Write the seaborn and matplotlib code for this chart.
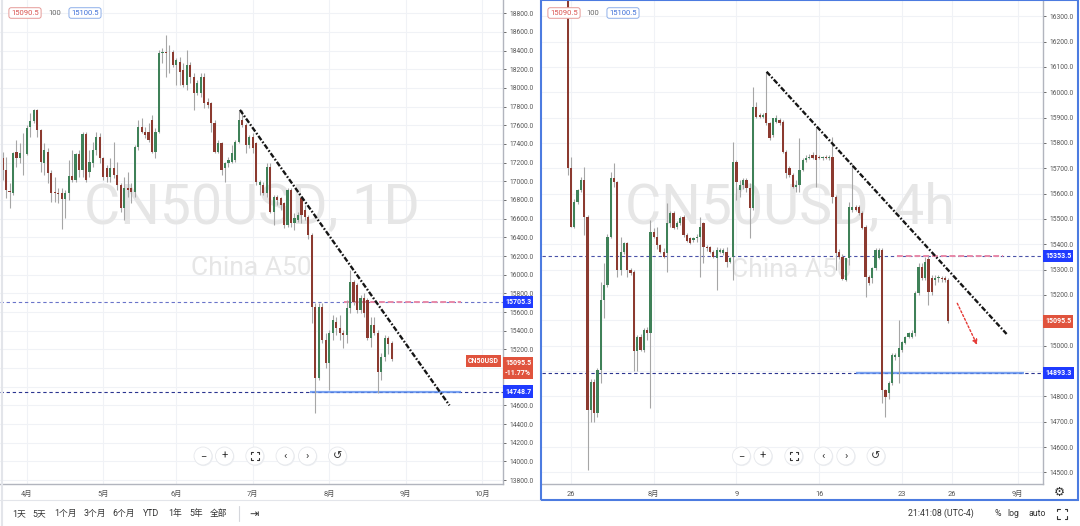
import numpy as np
import pandas as pd
import matplotlib
matplotlib.use("Agg")
import matplotlib.pyplot as plt
import matplotlib.transforms as mtransforms
from matplotlib.patches import Rectangle, Circle
import seaborn as sns

sns.set_theme(style="white")
plt.rcParams['font.family'] = ['Roboto', 'Noto Sans CJK SC', 'DejaVu Sans']

# ---- CN50USD daily candles (2021-03-23 .. 2021-08-26) ----
d_open = [17246, 17121, 16900, 16879, 17318, 17246, 17300, 17293, 17578, 17650,
          17764, 17550, 17200, 17318, 17093, 16889, 16879, 16879, 16807, 16871,
          17057, 17014, 17293, 17121, 17507, 17103, 17193, 17336, 17478, 17246,
          17139, 17043, 17139, 17068, 16961, 16711, 16925, 16925, 16889, 17371,
          17585, 17532, 17532, 17657, 17318, 17532, 18371, 18389, 18380, 18389,
          18246, 18282, 18193, 18032, 18246, 18121, 17943, 17943, 18121, 17853,
          17836, 17621, 17318, 17407, 17139, 17193, 17211, 17229, 17425, 17657,
          17604, 17389, 17479, 17407, 16961, 16961, 16872, 17157, 16675, 16836,
          16818, 16765, 16533, 16907, 16550, 16586, 16818, 16693, 16622, 16425,
          15658, 14890, 15658, 15301, 15051, 15372, 15497, 15426, 15372, 15354,
          15640, 15925, 15890, 15622, 15747, 15729, 15318, 15458, 15372, 14960,
          15120, 15320, 15265]
d_high = [17318, 17264, 16979, 17318, 17443, 17407, 17514, 17603, 17728, 17770,
          17770, 17560, 17407, 17353, 17121, 17050, 16925, 16925, 16907, 17228,
          17336, 17300, 17336, 17532, 17532, 17336, 17425, 17532, 17514, 17264,
          17175, 17246, 17425, 17211, 16979, 17050, 17103, 16979, 17389, 17657,
          17675, 17585, 17621, 17710, 17568, 18407, 18425, 18567, 18460, 18407,
          18318, 18336, 18264, 18407, 18282, 18157, 18085, 18157, 18157, 17890,
          17853, 17657, 17443, 17425, 17211, 17264, 17389, 17443, 17750, 17764,
          17621, 17496, 17514, 17425, 17014, 16997, 17193, 17193, 16854, 16854,
          16836, 16782, 16925, 16925, 16657, 16675, 16836, 16747, 16640, 16443,
          15693, 15693, 15693, 15372, 15408, 15568, 15551, 15568, 15408, 15729,
          16050, 15943, 15908, 15780, 15800, 15750, 15551, 15551, 15408, 15160,
          15350, 15340, 15290]
d_low = [17014, 16818, 16711, 16854, 17157, 17193, 17068, 17282, 17478, 17621,
         17478, 17103, 17068, 16979, 16782, 16782, 16764, 16486, 16604, 16800,
         16996, 16996, 17050, 17050, 16996, 17050, 17157, 17282, 17193, 17014,
         16996, 16996, 17032, 16907, 16675, 16586, 16836, 16764, 16836, 17336,
         17514, 17460, 17425, 17300, 17246, 17514, 18264, 18121, 18157, 18228,
         18032, 18032, 18014, 17979, 18050, 17764, 17925, 17907, 17782, 17782,
         17532, 17300, 17300, 17068, 16997, 17157, 17193, 17211, 17407, 17586,
         17300, 17354, 17300, 16961, 16854, 16854, 16836, 16657, 16533, 16747,
         16693, 16497, 16515, 16515, 16479, 16568, 16550, 16586, 16380, 15479,
         14515, 14872, 15265, 15000, 14765, 15301, 15354, 15301, 15211, 15265,
         15586, 15675, 15586, 15590, 15550, 15301, 15229, 15354, 14735, 14870,
         15080, 15150, 15080]
d_close = [17121, 16907, 16889, 17300, 17246, 17307, 17307, 17568, 17650, 17764,
           17550, 17211, 17336, 17093, 16871, 16871, 16864, 16807, 16871, 17057,
           17014, 17293, 17121, 17507, 17014, 17211, 17336, 17478, 17246, 17043,
           17043, 17139, 17068, 16961, 16711, 16925, 16907, 16889, 17371, 17585,
           17532, 17496, 17443, 17318, 17532, 18371, 18389, 18371, 18389, 18246,
           18300, 18175, 18032, 18246, 18121, 17943, 18050, 18121, 17836, 17818,
           17621, 17318, 17407, 17122, 17193, 17229, 17300, 17425, 17657, 17604,
           17389, 17479, 17354, 16997, 16997, 16872, 17157, 16675, 16836, 16800,
           16747, 16533, 16907, 16550, 16604, 16640, 16640, 16622, 16425, 15658,
           14890, 15658, 15301, 15051, 15372, 15515, 15426, 15372, 15354, 15640,
           15925, 15711, 15622, 15747, 15586, 15318, 15458, 15372, 14960, 15120,
           15320, 15260, 15095.5]

# ---- CN50USD 4h candles (last bar of 07-23 .. 08-26) ----
h_open = [16480, 15700, 15470, 15568, 15614, 15654, 15509, 14746, 14858, 14733,
          14904, 15180, 15240, 15430, 15660, 15647, 15299, 15371, 15404, 15299,
          15292, 14977, 15036, 14983, 15062, 15049, 15450, 15430, 15397, 15371,
          15364, 15483, 15522, 15470, 15483, 15509, 15437, 15424, 15417, 15424,
          15430, 15483, 15391, 15391, 15371, 15345, 15371, 15364, 15371, 15331,
          15351, 15726, 15614, 15634, 15654, 15621, 15542, 15943, 15910, 15903,
          15917, 15877, 15831, 15884, 15890, 15884, 15765, 15700, 15673, 15627,
          15634, 15693, 15732, 15739, 15752, 15752, 15746, 15739, 15746, 15739,
          15746, 15588, 15371, 15351, 15259, 15345, 15535, 15548, 15548, 15522,
          15470, 15272, 15266, 15305, 15345, 15378, 14825, 14812, 14852, 14957,
          14957, 14983, 15009, 15036, 15036, 15049, 15207, 15312, 15266, 15340,
          15266, 15259, 15266, 15266, 15266, 15259]
h_high = [16500, 15746, 15580, 15620, 15667, 15706, 15515, 14870, 14870, 14910,
          15253, 15325, 15440, 15687, 15720, 15650, 15430, 15410, 15410, 15305,
          15300, 15042, 15045, 15070, 15075, 15496, 15465, 15470, 15400, 15384,
          15562, 15530, 15530, 15490, 15510, 15515, 15445, 15430, 15430, 15440,
          15509, 15489, 15398, 15395, 15378, 15391, 15384, 15384, 15391, 15351,
          15805, 15732, 15654, 15660, 15660, 15640, 16022, 15963, 15917, 15920,
          16081, 15884, 15900, 15910, 15897, 15890, 15772, 15710, 15680, 15654,
          15818, 15740, 15752, 15755, 15765, 15864, 15752, 15750, 15752, 15752,
          15825, 15594, 15380, 15360, 15345, 15568, 15719, 15555, 15555, 15530,
          15475, 15280, 15312, 15384, 15384, 15384, 14830, 14860, 14970, 14970,
          15101, 15020, 15040, 15052, 15060, 15215, 15325, 15325, 15350, 15352,
          15280, 15280, 15280, 15275, 15275, 15266]
h_low = [15673, 15470, 15463, 15560, 15608, 15437, 14510, 14700, 14700, 14720,
         14852, 15108, 15230, 15424, 15627, 15272, 15279, 15360, 15272, 15280,
         14898, 14898, 14980, 14975, 15023, 14753, 15425, 15380, 15365, 15345,
         15292, 15470, 15460, 15460, 15475, 15430, 15410, 15400, 15410, 15410,
         15272, 15325, 15375, 15365, 15345, 15220, 15364, 15358, 15312, 15325,
         15259, 15575, 15588, 15620, 15608, 15423, 15535, 15897, 15897, 15897,
         15871, 15811, 15825, 15877, 15870, 15760, 15660, 15665, 15621, 15608,
         15608, 15690, 15725, 15735, 15735, 15627, 15735, 15732, 15735, 15732,
         15562, 15299, 15340, 15259, 15255, 15320, 15529, 15530, 15515, 15460,
         15193, 15240, 15246, 15299, 15340, 14773, 14720, 14790, 14845, 14945,
         14852, 14975, 15005, 15030, 15030, 15040, 15200, 15259, 15260, 15161,
         15200, 15240, 15250, 15250, 15250, 15090]
h_close = [15700, 15470, 15568, 15614, 15654, 15509, 14746, 14858, 14733, 14904,
           15180, 15240, 15430, 15660, 15647, 15299, 15371, 15404, 15299, 15286,
           14977, 15036, 14983, 15062, 15049, 15450, 15430, 15397, 15371, 15351,
           15483, 15522, 15463, 15483, 15502, 15437, 15411, 15404, 15424, 15430,
           15470, 15391, 15384, 15371, 15351, 15377, 15377, 15377, 15331, 15345,
           15726, 15647, 15634, 15654, 15621, 15542, 15943, 15903, 15903, 15910,
           15877, 15818, 15897, 15897, 15877, 15765, 15680, 15673, 15627, 15634,
           15693, 15732, 15739, 15746, 15739, 15732, 15739, 15746, 15739, 15746,
           15588, 15364, 15351, 15262, 15345, 15548, 15548, 15535, 15522, 15463,
           15272, 15246, 15305, 15378, 15378, 14825, 14799, 14852, 14963, 14963,
           14990, 15016, 15036, 15049, 15049, 15207, 15312, 15266, 15330, 15213,
           15213, 15266, 15268, 15264, 15259, 15095.5]

# drawn levels / trend lines
d_levels = [15705.3, 14748.7]
h_levels = [15353.5, 14893.3]
last_price = 15095.5
d_trend_x, d_trend_y = [61.3, 121.6], [17765, 14600]
h_trend_x, h_trend_y = [59.1, 131.6], [16081, 15046]
h_arrow = [(116.7, 15167), (122.7, 15003)]

# price ticks covered by the tags on the price scale
d_hidden_ticks = [15000, 14800]
h_hidden_ticks = [15100, 14900]

# calendars
d_dates = pd.bdate_range("2021-03-23", "2021-10-29")
d_pos = np.arange(len(d_dates)) - 7
h_days = pd.bdate_range("2021-07-23", "2021-09-03")
BARS_PER_DAY = 5
h_tick_days = ["2021-07-26", "2021-08-02", "2021-08-09", "2021-08-16",
               "2021-08-23", "2021-08-26", "2021-09-01"]
h_tick_labels = ["26", "8月", "9", "16", "23", "26", "9月"]

UP = "#3f8158"
DOWN = "#8c3a30"
WICK = "#a6a6a6"
GRID = "#f0f2f6"
LBL_BLUE = "#1f3bff"
LBL_RED = "#e0533d"
AXIS = "#b2b5be"

W, H = 1080, 526
fig = plt.figure(figsize=(W / 100, H / 100), dpi=100)
fig.patch.set_facecolor("white")
ax1 = fig.add_axes([0, 42 / H, 503 / W, 484 / H])
ax2 = fig.add_axes([542 / W, 42 / H, 501 / W, 484 / H])


def draw_candles(ax, x, o, h, l, c, width, min_body):
    o, h, l, c = (np.asarray(v, float) for v in (o, h, l, c))
    colors = np.where(c >= o, UP, DOWN)
    ax.vlines(x, l, h, color=WICK, lw=0.8, zorder=3)
    body = np.maximum(np.abs(c - o), min_body)
    ax.bar(x, body, width=width, bottom=np.minimum(o, c), color=colors,
           linewidth=0, zorder=4)


def style_axis(ax, yticks, hidden):
    ax.yaxis.tick_right()
    ax.set_yticks(yticks)
    ax.set_yticklabels(["" if t in hidden else f"{t:.1f}" for t in yticks])
    ax.tick_params(axis="y", labelsize=4.8, colors="#555555", length=2.5,
                   width=0.6, pad=2.5, right=True, left=False)
    ax.tick_params(axis="x", labelsize=5.3, colors="#555555", length=0, pad=5)
    ax.grid(True, color=GRID, lw=0.8, zorder=0)
    for s in ("top", "left"):
        ax.spines[s].set_visible(False)
    for s in ("right", "bottom"):
        ax.spines[s].set_color(AXIS)
        ax.spines[s].set_linewidth(1.0)


def price_tag(ax, y, text, color, dx=1.5, ha="left", size=5.0):
    tr = mtransforms.blended_transform_factory(ax.transAxes, ax.transData)
    ax.annotate(text, xy=(1, y), xycoords=tr, xytext=(dx, 0),
                textcoords="offset points", ha=ha, va="center", fontsize=size,
                color="white", fontweight="bold", annotation_clip=False,
                bbox=dict(boxstyle="square,pad=0.3", fc=color, ec="none"),
                zorder=10)


# ---------------- daily panel ----------------
n_d = len(d_open)
draw_candles(ax1, d_pos[:n_d], d_open, d_high, d_low, d_close, 0.62, 8)
ax1.set_xlim(-7.74, 137.0)
ax1.set_ylim(13758, 18942)
style_axis(ax1, np.arange(13800, 18801, 200), d_hidden_ticks)
months = pd.Series(d_pos, index=d_dates)
firsts = months.groupby([d_dates.year, d_dates.month]).first().iloc[1:]
ax1.set_xticks(firsts.values)
ax1.set_xticklabels([f"{m}月" for (_, m) in firsts.index])

ax1.axhline(d_levels[0], color="#6a74c9", lw=0.8, dashes=(3, 2.5), zorder=2)
ax1.axhline(d_levels[1], color="#2b3590", lw=0.8, dashes=(3, 2.5), zorder=2)
ax1.hlines(d_levels[0], 91.3, 125, color="#e889a8", lw=1.4, linestyles=(0, (3, 1.5)), zorder=2)
ax1.hlines(d_levels[1], 81.5, 125, color="#5b8def", lw=1.6, alpha=0.8, zorder=2)
sns.lineplot(x=d_trend_x, y=d_trend_y, ax=ax1, color="#151515", linewidth=1.7,
             linestyle=(0, (2.2, 0.8, 0.7, 0.8)), zorder=6)

ax1.text(0.501, 0.57, "CN50USD, 1D", transform=ax1.transAxes, ha="center",
         va="center", fontsize=40, color="#e6e6e6", zorder=1)
ax1.text(0.5, 0.447, "China A50", transform=ax1.transAxes, ha="center",
         va="center", fontsize=19, color="#e6e6e6", zorder=1)

price_tag(ax1, d_levels[0], f"{d_levels[0]:.1f}", LBL_BLUE)
price_tag(ax1, d_levels[1], f"{d_levels[1]:.1f}", LBL_BLUE)
price_tag(ax1, last_price - 95, f"{last_price:.1f}\n-11.77%", LBL_RED)
price_tag(ax1, last_price - 20, "CN50USD", LBL_RED, dx=-3, ha="right", size=5.0)

# ---------------- 4h panel ----------------
n_h = len(h_open)
h_x = np.arange(n_h) - 1
draw_candles(ax2, h_x, h_open, h_high, h_low, h_close, 0.68, 3)
ax2.set_xlim(-8.76, 142.6)
ax2.set_ylim(14454, 16364)
style_axis(ax2, np.arange(14500, 16301, 100), h_hidden_ticks)
day_index = {d.strftime("%Y-%m-%d"): k for k, d in enumerate(h_days)}
ax2.set_xticks([day_index[d] * BARS_PER_DAY - BARS_PER_DAY for d in h_tick_days])
ax2.set_xticklabels(h_tick_labels)

ax2.axhline(h_levels[0], color="#4a53a8", lw=0.8, dashes=(3, 2.5), zorder=2)
ax2.axhline(h_levels[1], color="#2b3590", lw=0.8, dashes=(3, 2.5), zorder=2)
ax2.hlines(h_levels[0], 98.5, 130.5, color="#e889a8", lw=1.4, linestyles=(0, (3, 1.5)), zorder=2)
ax2.hlines(h_levels[1], 86, 137, color="#5b8def", lw=1.6, alpha=0.8, zorder=2)
sns.lineplot(x=h_trend_x, y=h_trend_y, ax=ax2, color="#151515", linewidth=1.7,
             linestyle=(0, (2.2, 0.8, 0.7, 0.8)), zorder=6)
ax2.annotate("", xy=h_arrow[1], xytext=h_arrow[0], zorder=6,
             arrowprops=dict(arrowstyle="-|>", color="#e53935", lw=1.0,
                             linestyle=(0, (1.5, 1.5)), mutation_scale=7,
                             shrinkA=0, shrinkB=0))

ax2.text(0.495, 0.572, "CN50USD, 4h", transform=ax2.transAxes, ha="center",
         va="center", fontsize=40, color="#e6e6e6", zorder=1)
ax2.text(0.497, 0.443, "China A50", transform=ax2.transAxes, ha="center",
         va="center", fontsize=19, color="#e6e6e6", zorder=1)

price_tag(ax2, h_levels[0], f"{h_levels[0]:.1f}", LBL_BLUE)
price_tag(ax2, h_levels[1], f"{h_levels[1]:.1f}", LBL_BLUE)
price_tag(ax2, last_price, f"{last_price:.1f}", LBL_RED)

# ---------------- screen decorations (pixel overlay) ----------------
ov = fig.add_axes([0, 0, 1, 1], zorder=20)
ov.set_xlim(0, W)
ov.set_ylim(H, 0)
ov.axis("off")
ov.patch.set_alpha(0)

ov.add_patch(Rectangle((540.5, 0), 537.5, 500, fill=False, ec="#4c7be0", lw=1.5))
ov.plot([0, 540], [500, 500], color="#e3e5ea", lw=0.8)
ov.plot([1.5, 1.5], [0, 526], color="#e3e5ea", lw=1.5)

for x0, sep in ((6, 49), (545, 587)):
    ov.text(x0 + 19, 13, "15090.5", ha="center", va="center", fontsize=5.5,
            color="#d9534f", bbox=dict(boxstyle="round,pad=0.3", fc="white",
                                       ec="#e59a97", lw=0.7))
    ov.text(sep + 6, 13, "100", ha="center", va="center", fontsize=5.5, color="#666666")
    ov.text(sep + 36, 13, "15100.5", ha="center", va="center", fontsize=5.5,
            color="#3d6fd8", bbox=dict(boxstyle="round,pad=0.3", fc="white",
                                       ec="#8fb0ea", lw=0.7))

for xs in ([203, 224.5, 254.8, 285, 307.5, 337.5], [741.4, 763, 793.8, 823.4, 845.8, 876]):
    for k, (x, sym) in enumerate(zip(xs, ["−", "+", None, "‹", "›", "↺"])):
        ov.add_patch(Circle((x + 0.6, 456.8), 9.3, fc="#eef0f3", ec="none"))
        ov.add_patch(Circle((x, 456), 9, fc="white", ec="#e6e8ec", lw=0.6))
        if sym is None:
            for sx, sy in ((-1, -1), (1, -1), (-1, 1), (1, 1)):
                ov.plot([x + sx * 4, x + sx * 4, x + sx * 2], [456 + sy * 2, 456 + sy * 4, 456 + sy * 4],
                        color="#333333", lw=0.8)
        else:
            ov.text(x, 456, sym, ha="center", va="center", fontsize=8, color="#333333")

for x, t in zip([19, 39.6, 65, 94.7, 124, 151.5, 175, 196, 219],
                ["1天", "5天", "1个月", "3个月", "6个月", "YTD", "1年", "5年", "全部"]):
    ov.text(x, 513.5, t, ha="center", va="center", fontsize=6.3, color="#333333")
ov.plot([238.6, 238.6], [506, 521], color="#d5d7dc", lw=0.8)
ov.text(253.8, 513.5, "⇥", ha="center", va="center", fontsize=8, color="#333333")

ov.text(941, 513.5, "21:41:08 (UTC-4)", ha="center", va="center", fontsize=6.3, color="#333333")
ov.text(998, 513.5, "%", ha="center", va="center", fontsize=6.3, color="#333333")
ov.text(1013, 513.5, "log", ha="center", va="center", fontsize=6.3, color="#333333")
ov.text(1037, 513.5, "auto", ha="center", va="center", fontsize=6.3, color="#333333")
for sx, sy in ((-1, -1), (1, -1), (-1, 1), (1, 1)):
    ov.plot([1062 + sx * 5, 1062 + sx * 5, 1062 + sx * 2.5],
            [513.5 + sy * 2.5, 513.5 + sy * 5, 513.5 + sy * 5], color="#333333", lw=0.8)
ov.text(1059, 492, "⚙", ha="center", va="center", fontsize=9, color="#333333")

fig.savefig("out.png", dpi=100)
